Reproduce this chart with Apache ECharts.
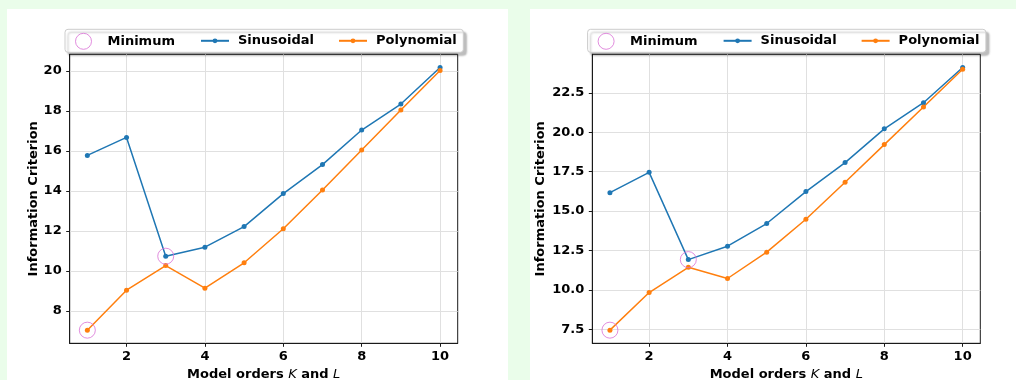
<!DOCTYPE html>
<html>
<head>
<meta charset="utf-8">
<script src="https://cdn.jsdelivr.net/npm/echarts@6/dist/echarts.min.js"></script>
<style>
  html, body { margin: 0; padding: 0; background: #eafdea; }
  #chart { width: 1016px; height: 380px; }
</style>
</head>
<body>
<div id="chart"></div>
<script>
// Model orders on the x axis
const orders = [1, 2, 3, 4, 5, 6, 7, 8, 9, 10];
const xTicks = [2, 4, 6, 8, 10];

// Left panel: information criterion per model order
const sinLeft  = [15.77, 16.67, 10.73, 11.18, 12.21, 13.86, 15.31, 17.04, 18.34, 20.17];
const polyLeft = [7.03, 9.03, 10.26, 9.13, 10.40, 12.10, 14.04, 16.04, 18.04, 20.02];
const yTicksLeft = [8, 10, 12, 14, 16, 18, 20];

// Right panel
const sinRight  = [16.17, 17.46, 11.92, 12.77, 14.21, 16.24, 18.08, 20.22, 21.88, 24.12];
const polyRight = [7.44, 9.83, 11.43, 10.72, 12.39, 14.48, 16.83, 19.22, 21.61, 24.00];
const yTicksRight = [7.5, 10, 12.5, 15, 17.5, 20, 22.5];

const COLORS = { sin: '#1f77b4', poly: '#ff7f0e', min: '#da70d6' };
const FONT = 'DejaVu Sans';

// axis extent with 5% padding on each side
function padded(values) {
  const lo = Math.min(...values), hi = Math.max(...values);
  const m = (hi - lo) * 0.05;
  return [lo - m, hi + m];
}

// point where a series reaches its minimum
function minPoint(ys) {
  let k = 0;
  ys.forEach((v, i) => { if (v < ys[k]) k = i; });
  return [orders[k], ys[k]];
}

const panels = [
  { sin: sinLeft, poly: polyLeft, yTicks: yTicksLeft, axLeft: 69.7, nameGap: 30, fmt: v => String(v) },
  { sin: sinRight, poly: polyRight, yTicks: yTicksRight, axLeft: 592.3, nameGap: 45, fmt: v => v.toFixed(1) }
];
const AX_TOP = 54.3, AX_W = 388, AX_H = 289;

const grid = [], xAxis = [], yAxis = [], series = [], legend = [], graphic = [];

// white panel backgrounds
graphic.push({ type: 'rect', z: -10, shape: { x: 7, y: 9, width: 501, height: 371 }, style: { fill: '#ffffff' } });
graphic.push({ type: 'rect', z: -10, shape: { x: 530, y: 9, width: 486, height: 371 }, style: { fill: '#ffffff' } });

const labelStyle = { fontFamily: FONT, fontWeight: 'bold', fontSize: 13, color: '#000' };

panels.forEach((p, i) => {
  grid.push({
    left: p.axLeft, top: AX_TOP, width: AX_W, height: AX_H,
    outerBoundsMode: 'none', containLabel: false,
    show: true, borderColor: '#1a1a1a', borderWidth: 1, backgroundColor: 'transparent'
  });
  const xr = padded(orders);
  xAxis.push({
    type: 'value', gridIndex: i, min: xr[0], max: xr[1],
    name: 'Model orders {i|K} and {i|L}', nameLocation: 'middle', nameGap: 23,
    nameTextStyle: Object.assign({}, labelStyle, {
      rich: { i: { fontFamily: FONT, fontStyle: 'italic', fontWeight: 'normal', fontSize: 13, color: '#000' } }
    }),
    axisLine: { show: true, onZero: false, lineStyle: { color: '#1a1a1a', width: 1 } },
    axisTick: { show: true, inside: false, length: 3.5, customValues: xTicks, lineStyle: { color: '#1a1a1a' } },
    axisLabel: Object.assign({ margin: 7, customValues: xTicks }, labelStyle),
    splitLine: { show: true, lineStyle: { color: '#e0e0e0', width: 1 } }
  });
  const yr = padded(p.sin.concat(p.poly));
  yAxis.push({
    type: 'value', gridIndex: i, min: yr[0], max: yr[1],
    name: 'Information Criterion', nameLocation: 'middle', nameGap: p.nameGap,
    nameTextStyle: labelStyle,
    axisLine: { show: true, onZero: false, lineStyle: { color: '#1a1a1a', width: 1 } },
    axisTick: { show: true, inside: false, length: 3.5, customValues: p.yTicks, lineStyle: { color: '#1a1a1a' } },
    axisLabel: Object.assign({ margin: 8, customValues: p.yTicks, formatter: p.fmt }, labelStyle),
    splitLine: { show: true, lineStyle: { color: '#e0e0e0', width: 1 } }
  });

  series.push({
    name: 'Sinusoidal', type: 'line', xAxisIndex: i, yAxisIndex: i,
    data: orders.map((x, k) => [x, p.sin[k]]),
    symbol: 'circle', symbolSize: 5, color: COLORS.sin,
    lineStyle: { width: 1.5, color: COLORS.sin }, itemStyle: { color: COLORS.sin },
    z: 3, animation: false
  });
  series.push({
    name: 'Polynomial', type: 'line', xAxisIndex: i, yAxisIndex: i,
    data: orders.map((x, k) => [x, p.poly[k]]),
    symbol: 'circle', symbolSize: 5, color: COLORS.poly,
    lineStyle: { width: 1.5, color: COLORS.poly }, itemStyle: { color: COLORS.poly },
    z: 3, animation: false
  });
  series.push({
    name: 'Minimum', type: 'scatter', xAxisIndex: i, yAxisIndex: i,
    data: [minPoint(p.poly), minPoint(p.sin)],
    symbol: 'circle', symbolSize: 16, color: COLORS.min,
    itemStyle: { color: 'rgba(0,0,0,0)', borderColor: COLORS.min, borderWidth: 1 },
    z: 4, animation: false
  });

  // legend frame with drop shadow
  graphic.push({
    type: 'rect', z: 3,
    shape: { x: p.axLeft - 4.7, y: 29.3, width: 398.3, height: 23, r: 3 },
    style: {
      fill: '#ffffff', stroke: '#cccccc', lineWidth: 1,
      shadowColor: 'rgba(0,0,0,0.25)', shadowOffsetX: 3, shadowOffsetY: 3, shadowBlur: 2
    }
  });

  const legText = { fontFamily: FONT, fontWeight: 'bold', fontSize: 13, color: '#000', lineHeight: 16 };
  legend.push({
    left: p.axLeft + 5.3, top: 32.8, padding: 0, selectedMode: false, z: 5,
    itemWidth: 16, itemHeight: 16,
    data: [{ name: 'Minimum', icon: 'circle',
      itemStyle: { color: 'rgba(0,0,0,0)', borderColor: COLORS.min, borderWidth: 1 } }],
    textStyle: Object.assign({ padding: [0, 0, 0, 11] }, legText)
  });
  legend.push({
    left: p.axLeft + 130.3, top: 32.8, padding: 0, selectedMode: false, z: 5,
    itemWidth: 28, itemHeight: 6,
    data: ['Sinusoidal'],
    textStyle: Object.assign({ padding: [0, 0, 0, 4] }, legText)
  });
  legend.push({
    left: p.axLeft + 268.3, top: 32.8, padding: 0, selectedMode: false, z: 5,
    itemWidth: 28, itemHeight: 6,
    data: ['Polynomial'],
    textStyle: Object.assign({ padding: [0, 0, 0, 4] }, legText)
  });
});

const chart = echarts.init(document.getElementById('chart'), null, { renderer: 'canvas' });
chart.setOption({
  backgroundColor: '#eafdea',
  animation: false,
  grid, xAxis, yAxis, series, legend, graphic
});
</script>
</body>
</html>
